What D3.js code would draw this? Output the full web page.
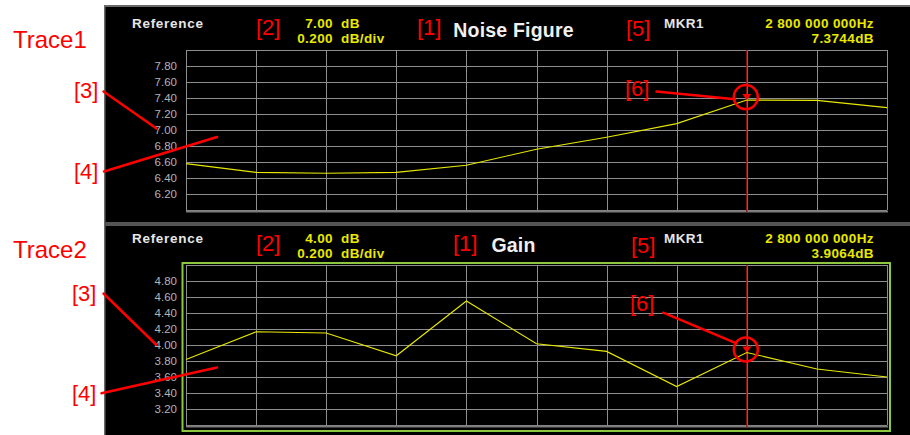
<!DOCTYPE html>
<html><head><meta charset="utf-8">
<script src="https://cdn.jsdelivr.net/npm/d3@7"></script>
<style>body{margin:0;background:#fff}svg{display:block}</style>
</head><body><svg id="c" width="910" height="435"></svg>
<script>
// ---- data ----
const freqGHz = [1.2, 1.4, 1.6, 1.8, 2.0, 2.2, 2.4, 2.6, 2.8, 3.0, 3.2];
const noiseFigureDb = [6.58, 6.47, 6.46, 6.47, 6.56, 6.76, 6.91, 7.08, 7.3744, 7.37, 7.28];
const gainDb = [3.82, 4.165, 4.15, 3.865, 4.55, 4.015, 3.92, 3.48, 3.9064, 3.70, 3.60];
const noiseFigureTicks = [6.2, 6.4, 6.6, 6.8, 7.0, 7.2, 7.4, 7.6, 7.8];
const gainTicks = [3.2, 3.4, 3.6, 3.8, 4.0, 4.2, 4.4, 4.6, 4.8];
const traceTitles = ["Noise Figure", "Gain"];
const traceLabels = ["Trace1", "Trace2"];
const referenceDb = [7.00, 4.00];
const referenceText = ["7.00", "4.00"];
const scaleText = ["0.200", "0.200"];
const scaleDbPerDiv = [0.2, 0.2];
const markerFreqGHz = 2.8;
const markerName = "MKR1";
const markerFreqText = "2 800 000 000Hz";
const markerValueText = ["7.3744dB", "3.9064dB"];

// ---- layout ----
const svg = d3.select("#c");
const RED = "#ff0000", YEL = "#e8e800", GRID = "#8e8e8e";
const HEAD = "'Liberation Sans', Arial, Helvetica, sans-serif";
const NARROW = "'Liberation Sans Narrow', 'Arial Narrow', 'Liberation Sans', sans-serif";

svg.append("rect").attr("width", 910).attr("height", 435).attr("fill", "#fff");
svg.append("rect").attr("x", 104).attr("y", 6).attr("width", 806).attr("height", 429).attr("fill", "#000");
svg.append("rect").attr("x", 104).attr("y", 5).attr("width", 806).attr("height", 2).attr("fill", "#6a6a6a");
svg.append("rect").attr("x", 104).attr("y", 5).attr("width", 1.5).attr("height", 430).attr("fill", "#6a6a6a");
svg.append("rect").attr("x", 105.5).attr("y", 222).attr("width", 805).attr("height", 4).attr("fill", "#555");

const panels = [
  {values: noiseFigureDb, ticks: noiseFigureTicks, oy: 0, active: false,
   b2: 34.5, b1x: 417, b5x: 626, b5: 36, b3: [74, 97.7], b4: [74, 179.3], b6: [625, 96],
   l3: [103.5, 91.5, 156.5, 128.5], l4: [104, 171.5, 217, 137], l6: [656.5, 91.5, 735, 99.3], trLab: 48},
  {values: gainDb, ticks: gainTicks, oy: 215, active: true,
   b2: 251, b1x: 453, b5x: 631, b5: 252.7, b3: [72, 301], b4: [72, 401], b6: [630, 311],
   l3: [103.5, 293.5, 156.5, 345], l4: [101.5, 393.3, 217, 367.5], l6: [663.3, 312.7, 736.5, 343.3], trLab: 258}
];

panels.forEach((p, i) => {
  const top = 50 + p.oy, bottom = 210 + p.oy, left = 186, right = 887;
  const ref = referenceDb[i], div = scaleDbPerDiv[i];
  const x = d3.scaleLinear().domain([freqGHz[0], freqGHz[freqGHz.length - 1]]).range([left, right]);
  const y = d3.scaleLinear().domain([ref - 5 * div, ref + 5 * div]).range([bottom, top]);
  const xr = x.copy().rangeRound([left, right]);
  const yr = y.copy().rangeRound([bottom, top]);
  const g = svg.append("g");

  if (p.active) {
    g.append("rect").attr("x", 182.5).attr("y", 263).attr("width", 707.5).attr("height", 168)
      .attr("fill", "none").attr("stroke", "#8dc63f").attr("stroke-width", 2);
  }

  // horizontal grid
  const hVals = [y.domain()[0], ...p.ticks, y.domain()[1]];
  const hg = g.append("g").attr("transform", `translate(${left},0)`)
    .call(d3.axisLeft(yr).tickValues(hVals).tickSize(-(right - left)).tickFormat(""));
  hg.select(".domain").remove();
  hg.selectAll("line").attr("stroke", GRID);
  // vertical grid
  const vg = g.append("g").attr("transform", `translate(0,${bottom})`)
    .call(d3.axisBottom(xr).tickValues(freqGHz).tickSize(-(bottom - top)).tickFormat(""));
  vg.select(".domain").remove();
  vg.selectAll("line").attr("stroke", GRID);
  // bottom baseline
  g.append("rect").attr("x", left).attr("y", bottom + 0.5).attr("width", right - left + 1).attr("height", 2).attr("fill", "#7a7a7a");

  // y labels
  const ya = g.append("g").attr("transform", `translate(177,0)`)
    .call(d3.axisLeft(y).tickValues(p.ticks).tickSize(0).tickPadding(0).tickFormat(d3.format(".2f")));
  ya.select(".domain").remove();
  ya.selectAll("text").attr("fill", "#b4b4b4").attr("font-size", 11.5).attr("font-family", NARROW);

  // marker line
  const mx = x(markerFreqGHz);
  g.append("line").attr("x1", mx).attr("x2", mx).attr("y1", top).attr("y2", bottom + 2)
    .attr("stroke", "#a01010").attr("stroke-width", 1.3);

  // trace
  g.append("path").datum(p.values)
    .attr("d", d3.line().x((d, j) => x(freqGHz[j])).y(d => y(d)))
    .attr("fill", "none").attr("stroke", YEL).attr("stroke-width", 1.1);

  // marker triangle
  const mi = freqGHz.indexOf(markerFreqGHz);
  const my = y(p.values[mi]);
  g.append("path").attr("d", `M${mx - 4.5},${my - 6}L${mx + 4.5},${my - 6}L${mx},${my}Z`).attr("fill", RED);

  // header texts
  const hy = 28 + p.oy, hy2 = 42.5 + p.oy;
  const t = (xx, yy, s, o) => g.append("text").attr("x", xx).attr("y", yy).text(s)
    .attr("font-family", HEAD).attr("font-weight", o.w || "bold").attr("font-size", o.s || 13.5)
    .attr("letter-spacing", o.ls != null ? o.ls : 0.4)
    .attr("fill", o.c || "#e6e6e6").attr("text-anchor", o.a || "start");
  t(132, hy, "Reference", {ls: 0.7});
  t(333, hy, referenceText[i], {c: YEL, a: "end"});
  t(341, hy, "dB", {c: YEL});
  t(333, hy2, scaleText[i], {c: YEL, a: "end"});
  t(341, hy2, "dB/div", {c: YEL});
  t(513.5, 36.5 + p.oy, traceTitles[i], {s: 19.5, ls: 0.2, c: "#f0f0f0", a: "middle"});
  t(664, hy, markerName, {});
  t(874, hy, markerFreqText, {c: YEL, a: "end"});
  t(874, hy2, markerValueText[i], {c: YEL, a: "end"});

  // annotations
  const r = (xx, yy, s, sz) => g.append("text").attr("x", xx).attr("y", yy).text(s)
    .attr("font-family", HEAD).attr("font-size", sz || 22).attr("fill", RED);
  r(256, p.b2, "[2]");
  r(p.b1x, p.b2, "[1]");
  r(p.b5x, p.b5, "[5]");
  r(p.b3[0], p.b3[1], "[3]");
  r(p.b4[0], p.b4[1], "[4]");
  r(p.b6[0], p.b6[1], "[6]");
  r(13, p.trLab, traceLabels[i], 24);
  [p.l3, p.l4, p.l6].forEach(l => g.append("line").attr("x1", l[0]).attr("y1", l[1]).attr("x2", l[2]).attr("y2", l[3])
    .attr("stroke", RED).attr("stroke-width", 2.5).attr("stroke-linecap", "round"));
  g.append("circle").attr("cx", mx - 1).attr("cy", my - 3).attr("r", 12)
    .attr("fill", "none").attr("stroke", RED).attr("stroke-width", 2.5);
});
</script></body></html>
